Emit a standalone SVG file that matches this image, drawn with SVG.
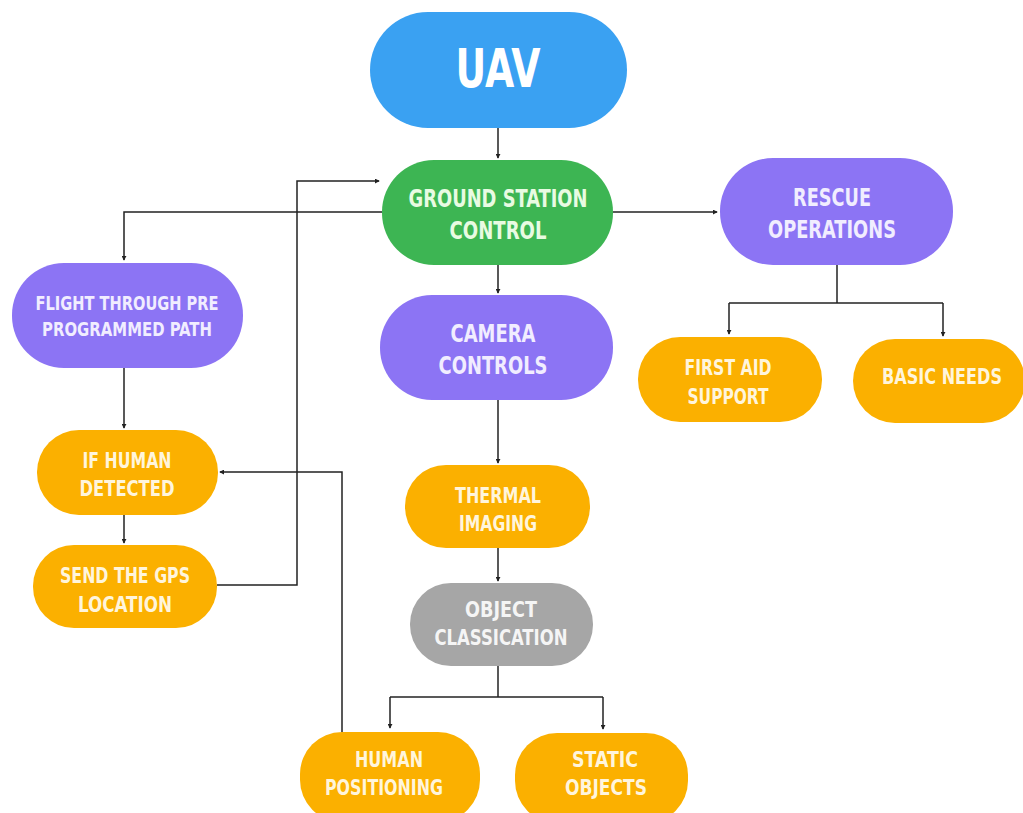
<svg xmlns="http://www.w3.org/2000/svg" width="1023" height="813" viewBox="0 0 1023 813">
<defs>
<marker id="arr" viewBox="0 0 6 6" refX="5" refY="3" markerWidth="5" markerHeight="5" orient="auto" markerUnits="userSpaceOnUse">
<path d="M0,0 L6,3 L0,6 z" fill="#222"/>
</marker>
<style>
.t{font-family:"Liberation Sans Narrow","DejaVu Sans Condensed","Liberation Sans",sans-serif;font-weight:bold;text-anchor:middle;}
.blue{fill:#3aa1f2}.green{fill:#3db553}.purple{fill:#8c74f4}.orange{fill:#fbb000}.gray{fill:#a6a6a6}
.tw{fill:#ffffff}.tg{fill:#e8fbe2}.tp{fill:#f1edff}.to{fill:#fff5dc}.tgr{fill:#f5f5f5}
.c{fill:none;stroke:#222;stroke-width:1.5}
</style>
</defs>
<rect width="1023" height="813" fill="#ffffff"/>
<g id="connectors">
<path class="c" d="M498,128 V158" marker-end="url(#arr)"/>
<path class="c" d="M382,212 H124 V260" marker-end="url(#arr)"/>
<path class="c" d="M217,585 H297 V181 H379" marker-end="url(#arr)"/>
<path class="c" d="M613,212 H717" marker-end="url(#arr)"/>
<path class="c" d="M498,265 V293" marker-end="url(#arr)"/>
<path class="c" d="M124,368 V428" marker-end="url(#arr)"/>
<path class="c" d="M124,515 V543" marker-end="url(#arr)"/>
<path class="c" d="M342,732 V472 H220" marker-end="url(#arr)"/>
<path class="c" d="M498,400 V463" marker-end="url(#arr)"/>
<path class="c" d="M498,548 V581" marker-end="url(#arr)"/>
<path class="c" d="M498,666 V697"/>
<path class="c" d="M390,697 H603"/>
<path class="c" d="M390,697 V728" marker-end="url(#arr)"/>
<path class="c" d="M603,697 V729" marker-end="url(#arr)"/>
<path class="c" d="M837,265 V303"/>
<path class="c" d="M729,303 H943"/>
<path class="c" d="M729,303 V334" marker-end="url(#arr)"/>
<path class="c" d="M943,303 V336" marker-end="url(#arr)"/>
</g>
<g id="uav">
<rect class="blue" x="370" y="12" width="257" height="116" rx="58"/>
<text class="t tw" x="498" y="87" font-size="54" textLength="85" lengthAdjust="spacingAndGlyphs">UAV</text>
</g>
<g id="ground-station">
<rect class="green" x="382" y="160" width="231" height="105" rx="52"/>
<text class="t tg" x="498" y="207" font-size="24" textLength="179" lengthAdjust="spacingAndGlyphs">GROUND STATION</text>
<text class="t tg" x="498" y="239" font-size="24" textLength="97" lengthAdjust="spacingAndGlyphs">CONTROL</text>
</g>
<g id="rescue">
<rect class="purple" x="720" y="158" width="233" height="107" rx="53"/>
<text class="t tp" x="832" y="206" font-size="24" textLength="78" lengthAdjust="spacingAndGlyphs">RESCUE</text>
<text class="t tp" x="832" y="238" font-size="24" textLength="128" lengthAdjust="spacingAndGlyphs">OPERATIONS</text>
</g>
<g id="flight">
<rect class="purple" x="12" y="263" width="231" height="105" rx="52"/>
<text class="t tp" x="127" y="310" font-size="20" textLength="183" lengthAdjust="spacingAndGlyphs">FLIGHT THROUGH PRE</text>
<text class="t tp" x="127" y="336" font-size="20" textLength="170" lengthAdjust="spacingAndGlyphs">PROGRAMMED PATH</text>
</g>
<g id="if-human">
<rect class="orange" x="37" y="430" width="181" height="85" rx="42"/>
<text class="t to" x="127" y="468" font-size="21" textLength="89" lengthAdjust="spacingAndGlyphs">IF HUMAN</text>
<text class="t to" x="127" y="496" font-size="21" textLength="95" lengthAdjust="spacingAndGlyphs">DETECTED</text>
</g>
<g id="send-gps">
<rect class="orange" x="33" y="545" width="184" height="83" rx="41"/>
<text class="t to" x="125" y="583" font-size="21" textLength="130" lengthAdjust="spacingAndGlyphs">SEND THE GPS</text>
<text class="t to" x="125" y="612" font-size="21" textLength="94" lengthAdjust="spacingAndGlyphs">LOCATION</text>
</g>
<g id="camera">
<rect class="purple" x="380" y="295" width="233" height="105" rx="52"/>
<text class="t tp" x="493" y="342" font-size="24" textLength="85" lengthAdjust="spacingAndGlyphs">CAMERA</text>
<text class="t tp" x="493" y="374" font-size="24" textLength="109" lengthAdjust="spacingAndGlyphs">CONTROLS</text>
</g>
<g id="thermal">
<rect class="orange" x="405" y="465" width="185" height="83" rx="41"/>
<text class="t to" x="498" y="503" font-size="21" textLength="86" lengthAdjust="spacingAndGlyphs">THERMAL</text>
<text class="t to" x="498" y="531" font-size="21" textLength="78" lengthAdjust="spacingAndGlyphs">IMAGING</text>
</g>
<g id="object-classication">
<rect class="gray" x="410" y="583" width="183" height="83" rx="41"/>
<text class="t tgr" x="501" y="617" font-size="21" textLength="72" lengthAdjust="spacingAndGlyphs">OBJECT</text>
<text class="t tgr" x="501" y="645" font-size="21" textLength="133" lengthAdjust="spacingAndGlyphs">CLASSICATION</text>
</g>
<g id="human-positioning">
<rect class="orange" x="300" y="732" width="180" height="90" rx="42"/>
<text class="t to" x="389" y="767" font-size="21" textLength="68" lengthAdjust="spacingAndGlyphs">HUMAN</text>
<text class="t to" x="384" y="795" font-size="21" textLength="118" lengthAdjust="spacingAndGlyphs">POSITIONING</text>
</g>
<g id="static-objects">
<rect class="orange" x="515" y="733" width="173" height="90" rx="42"/>
<text class="t to" x="605" y="767" font-size="21" textLength="66" lengthAdjust="spacingAndGlyphs">STATIC</text>
<text class="t to" x="606" y="795" font-size="21" textLength="82" lengthAdjust="spacingAndGlyphs">OBJECTS</text>
</g>
<g id="first-aid">
<rect class="orange" x="638" y="337" width="184" height="85" rx="42"/>
<text class="t to" x="728" y="375" font-size="21" textLength="87" lengthAdjust="spacingAndGlyphs">FIRST AID</text>
<text class="t to" x="728" y="404" font-size="21" textLength="81" lengthAdjust="spacingAndGlyphs">SUPPORT</text>
</g>
<g id="basic-needs">
<rect class="orange" x="853" y="339" width="172" height="84" rx="42"/>
<text class="t to" x="942" y="384" font-size="21" textLength="120" lengthAdjust="spacingAndGlyphs">BASIC NEEDS</text>
</g>
</svg>
